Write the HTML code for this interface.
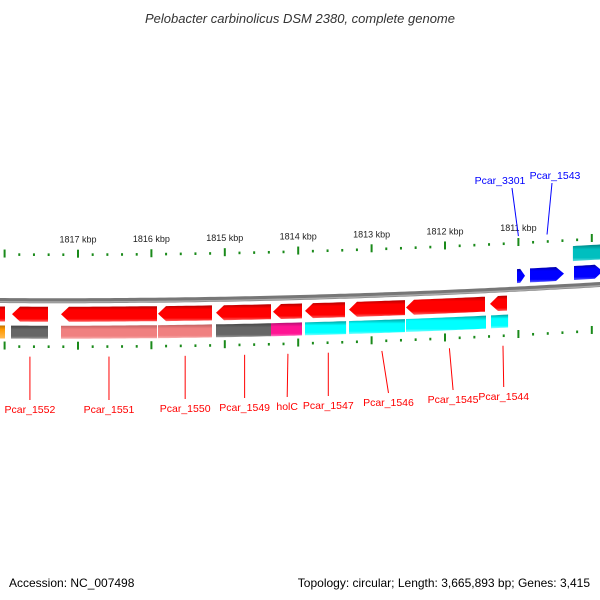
<!DOCTYPE html>
<html><head><meta charset="utf-8"><style>
html,body{margin:0;padding:0;background:#fff;}
svg{display:block;font-family:"Liberation Sans","DejaVu Sans",sans-serif;}
</style></head><body>
<svg id="map" width="600" height="600" viewBox="0 0 600 600">
<defs>
<linearGradient id="gRed" x1="0" y1="0" x2="0" y2="1"><stop offset="0" stop-color="#b00000"/><stop offset="0.25" stop-color="#ff0000"/><stop offset="0.8" stop-color="#ff0000"/><stop offset="1" stop-color="#ff6060"/></linearGradient>
<linearGradient id="gBlue" x1="0" y1="0" x2="0" y2="1"><stop offset="0" stop-color="#0000a0"/><stop offset="0.25" stop-color="#0000ff"/><stop offset="0.8" stop-color="#0000ff"/><stop offset="1" stop-color="#6060ff"/></linearGradient>
<linearGradient id="gGray" x1="0" y1="0" x2="0" y2="1"><stop offset="0" stop-color="#444"/><stop offset="0.3" stop-color="#666"/><stop offset="0.8" stop-color="#666"/><stop offset="1" stop-color="#999"/></linearGradient>
<linearGradient id="gPink" x1="0" y1="0" x2="0" y2="1"><stop offset="0" stop-color="#c06060"/><stop offset="0.3" stop-color="#f08080"/><stop offset="0.8" stop-color="#f08080"/><stop offset="1" stop-color="#f8b0b0"/></linearGradient>
<linearGradient id="gCyan" x1="0" y1="0" x2="0" y2="1"><stop offset="0" stop-color="#00a0a0"/><stop offset="0.3" stop-color="#00ffff"/><stop offset="0.8" stop-color="#00ffff"/><stop offset="1" stop-color="#80ffff"/></linearGradient>
<linearGradient id="gTeal" x1="0" y1="0" x2="0" y2="1"><stop offset="0" stop-color="#008080"/><stop offset="0.3" stop-color="#00bfbf"/><stop offset="0.8" stop-color="#00bfbf"/><stop offset="1" stop-color="#60dddd"/></linearGradient>
<linearGradient id="gMag" x1="0" y1="0" x2="0" y2="1"><stop offset="0" stop-color="#b01070"/><stop offset="0.3" stop-color="#ff1493"/><stop offset="0.8" stop-color="#ff1493"/><stop offset="1" stop-color="#ff70c0"/></linearGradient>
<linearGradient id="gOrange" x1="0" y1="0" x2="0" y2="1"><stop offset="0" stop-color="#c07000"/><stop offset="0.3" stop-color="#ff9900"/><stop offset="1" stop-color="#ffbb55"/></linearGradient>
</defs>
<text x="300" y="23" text-anchor="middle" font-size="13" font-style="italic" fill="#333">Pelobacter carbinolicus DSM 2380, complete genome</text>
<g id="plot"></g>
<text x="9" y="587" font-size="12" fill="#000">Accession: NC_007498</text>
<text x="590" y="587" text-anchor="end" font-size="12" fill="#000">Topology: circular; Length: 3,665,893 bp; Genes: 3,415</text>
</svg>
<script>
// positions in kbp
const majorTicks = [1818, 1817, 1816, 1815, 1814, 1813, 1812, 1811, 1810];
const tickLabels = ["", "1817 kbp", "1816 kbp", "1815 kbp", "1814 kbp", "1813 kbp", "1812 kbp", "1811 kbp", ""];
// reverse-strand CDS (start,end kbp)
const revStart = [1818.10, 1817.899, 1817.232, 1815.910, 1815.120, 1814.343, 1813.907, 1813.308, 1812.531, 1811.387];
const revEnd   = [1817.995, 1817.409, 1815.924, 1815.174, 1814.370, 1813.948, 1813.362, 1812.545, 1811.455, 1811.155];
const revArrow = [false, true, true, true, true, true, true, true, true, true];
// COG-colour row
const cogStart = [1818.10, 1817.913, 1817.232, 1815.910, 1815.120, 1814.370, 1813.907, 1813.308, 1812.531, 1811.373];
const cogEnd   = [1817.995, 1817.409, 1815.924, 1815.174, 1814.370, 1813.948, 1813.348, 1812.545, 1811.441, 1811.141];
const cogColor = ["gOrange", "gGray", "gPink", "gPink", "gGray", "gMag", "gCyan", "gCyan", "gCyan", "gCyan"];
// forward-strand CDS
const fwdStart = [1811.019, 1810.842, 1810.243];
const fwdEnd   = [1810.910, 1810.379, 1809.85];
const fwdCogStart = [1810.257];
const fwdCogEnd = [1809.85];
// labels
const lowerLabels = ["Pcar_1552", "Pcar_1551", "Pcar_1550", "Pcar_1549", "holC", "Pcar_1547", "Pcar_1546", "Pcar_1545", "Pcar_1544"];
const lowerAnchor = [1817.655, 1816.578, 1815.54, 1814.73, 1814.14, 1813.59, 1812.86, 1811.94, 1811.21];
const lowerTextK  = [1817.655, 1816.578, 1815.54, 1814.73, 1814.15, 1813.59, 1812.77, 1811.89, 1811.20];
const lowerTextY  = [413, 413, 412, 411, 410, 409, 406, 403, 400];
const upperLabels = ["Pcar_3301", "Pcar_1543"];
const upperAnchor = [1811.0, 1810.61];

const NS = "http://www.w3.org/2000/svg";
const plot = document.getElementById("plot");
function X(kbp){ return 78 + (1817 - kbp) * 73.4; }
function B(x){ return 300.5 + 0.00667 * x - 5.56e-5 * x * x; }
function mk(tag, attrs){ const e = document.createElementNS(NS, tag); for (const k in attrs) e.setAttribute(k, attrs[k]); plot.appendChild(e); return e; }
function band(x1, x2, o1, o2, head, dir){
  const a = Math.min(x1, x2), b = Math.max(x1, x2);
  const pts = [];
  const mid = (o1 + o2) / 2;
  let hs = head ? Math.min(8, (b - a) * 0.6) : 0;
  const L = dir < 0 ? a + hs : a, R = dir > 0 ? b - hs : b;
  for (let x = L; x <= R; x += 4) pts.push([x, B(x) + o1]);
  pts.push([R, B(R) + o1]);
  if (head && dir > 0) pts.push([b, B(b) + mid]);
  for (let x = R; x >= L; x -= 4) pts.push([x, B(x) + o2]);
  pts.push([L, B(L) + o2]);
  if (head && dir < 0) pts.push([a, B(a) + mid]);
  return pts.map(p => p[0].toFixed(1) + "," + p[1].toFixed(1)).join(" ");
}
// backbone
{
  let d = "";
  for (let x = -5; x <= 605; x += 5) d += (x === -5 ? "M" : "L") + x + "," + B(x).toFixed(1);
  const bb = mk("path", {d: d, stroke: "#777", "stroke-width": 5, fill: "none"});
  
  
  const bb2 = mk("path", {d: d, stroke: "#aaa", "stroke-width": 1.5, fill: "none", transform: "translate(0,1.3)"});
  
  
}
// ticks
for (let i = 0; i < majorTicks.length; i++) {
  for (let j = 0; j < 5; j++) {
    const k = majorTicks[i] - j * 0.2;
    const x = X(k);
    if (x < -2 || x > 602) continue;
    const major = j === 0;
    for (const side of [-1, 1]) {
      const o = side * 46;
      const t = mk("line", {x1: x, x2: x, y1: B(x) + o - (major ? 5 : 1.3), y2: B(x) + o + (major ? 3 : 1.3), stroke: "#1a8a1a", "stroke-width": 2});
      
      
    }
  }
  const x = X(majorTicks[i]);
  if (tickLabels[i]) {
    const t = mk("text", {x: x, y: B(x) - 58, "text-anchor": "middle", "font-size": 9, fill: "#222"});
    t.textContent = tickLabels[i];
    
    
  }
}
// reverse strand
for (let i = 0; i < revStart.length; i++) {
  const p = mk("polygon", {points: band(X(revStart[i]), X(revEnd[i]), 6, 21, revArrow[i], -1), fill: "url(#gRed)"});
  
  
}
for (let i = 0; i < cogStart.length; i++) {
  const p = mk("polygon", {points: band(X(cogStart[i]), X(cogEnd[i]), 25, 38, false, -1), fill: "url(#" + cogColor[i] + ")"});
  
  
}
// forward strand
for (let i = 0; i < fwdStart.length; i++) {
  const p = mk("polygon", {points: band(X(fwdStart[i]), X(fwdEnd[i]), -20, -6, true, 1), fill: "url(#gBlue)"});
  
  
}
for (let i = 0; i < fwdCogStart.length; i++) {
  const p = mk("polygon", {points: band(X(fwdCogStart[i]), X(fwdCogEnd[i]), -40, -25, false, 1), fill: "url(#gTeal)"});
  
  
}
// lower labels
for (let i = 0; i < lowerLabels.length; i++) {
  const ax = X(lowerAnchor[i]);
  const lx = X(lowerTextK[i]);
  const ty = lowerTextY[i];
  const l = mk("line", {x1: ax, y1: B(ax) + 56, x2: lx, y2: ty - 13, stroke: "#ff0000", "stroke-width": 1});
  
  
  const t = mk("text", {x: lx, y: ty, "text-anchor": "middle", "font-size": 10.5, fill: "#ff0000"});
  t.textContent = lowerLabels[i];
  
  
}
// upper labels
const upX = [500, 555], upY = [184, 179];
for (let i = 0; i < upperLabels.length; i++) {
  const ax = X(upperAnchor[i]);
  const l = mk("line", {x1: ax, y1: B(ax) - 53, x2: upX[i] + (i === 0 ? 12 : -3), y2: upY[i] + 4, stroke: "#0000ff", "stroke-width": 1});
  
  
  const t = mk("text", {x: upX[i], y: upY[i], "text-anchor": "middle", "font-size": 10.5, fill: "#0000ff"});
  t.textContent = upperLabels[i];
  
  
}
</script>
</body></html>
